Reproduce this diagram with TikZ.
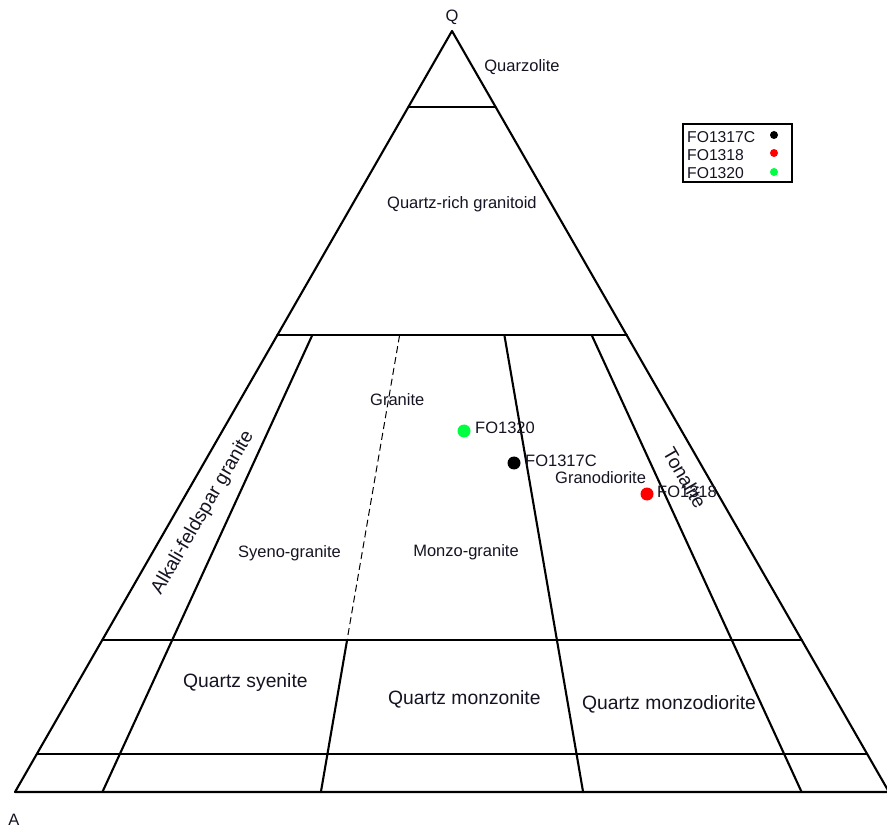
\documentclass[tikz,border=0pt]{standalone}
\usepackage{fontspec}
\setmainfont{Liberation Sans}
\usetikzlibrary{calc}
\newcommand{\smallf}{\fontsize{16.5}{19}\selectfont}
\newcommand{\bigf}{\fontsize{19.3}{22}\selectfont}
\newcommand{\legf}{\fontsize{15.7}{18}\selectfont}
\definecolor{txt}{RGB}{20,20,35}
\definecolor{ptgreen}{RGB}{0,255,64}
\definecolor{ptred}{RGB}{255,0,0}
\begin{document}
\begin{tikzpicture}[x=1pt,y=-1pt,
  edge/.style={line width=2.1pt, line cap=round, line join=round},
  dashline/.style={line width=1pt, dash pattern=on 7pt off 4pt},
  lab/.style={inner sep=0pt, text=txt, font=\smallf},
  biglab/.style={inner sep=0pt, text=txt, font=\bigf},
  pt/.style={circle, inner sep=0pt, minimum size=13pt},
  legdot/.style={circle, inner sep=0pt, minimum size=8pt}]
\useasboundingbox (0,0) rectangle (887,826);
\clip (0,0) rectangle (887,826);
\fill[white] (0,0) rectangle (887,826);
% corners
\coordinate (A) at (15,792);
\coordinate (Q) at (452,31);
\coordinate (P) at (889,792);
% horizontal boundaries
\foreach \q/\n in {0.9/h90, 0.6/h60, 0.2/h20, 0.05/h5}{
  \coordinate (\n l) at ($(A)!\q!(Q)$);
  \coordinate (\n r) at ($(P)!\q!(Q)$);
}
% radial boundaries
\foreach \r/\n in {0.1/r10, 0.35/r35, 0.65/r65, 0.9/r90}{
  \coordinate (\n b) at ($(A)!\r!(P)$);
  \coordinate (\n t) at ($(\n b)!0.6!(Q)$);
  \coordinate (\n m) at ($(\n b)!0.2!(Q)$);
}
% triangle
\draw[edge] (A) -- (Q) -- (P) -- cycle;
\draw[edge] (h90l) -- (h90r);
\draw[edge] (h60l) -- (h60r);
\draw[edge] (h20l) -- (h20r);
\draw[edge] (h5l) -- (h5r);
\draw[edge] (r10t) -- (r10b);
\draw[dashline] (r35t) -- (r35m);
\draw[edge] (r35m) -- (r35b);
\draw[edge] (r65t) -- (r65b);
\draw[edge] (r90t) -- (r90b);
% vertex labels
\node[lab] (lQ) at (452,17) {Q};
\node[lab] (lA) at (14,820) {A};
\node[lab] (lP) at (893,820) {P};
% field labels
\node[lab] (quarzolite) at (522,67) {Quarzolite};
\node[lab, anchor=base west] (qrg) at (387,209) {Quartz-rich granitoid};
\node[lab, anchor=base west] (granite) at (370,406) {Granite};
\node[lab, anchor=base west] (syeno) at (238,557) {Syeno-granite};
\node[lab] (monzo) at (466,552) {Monzo-granite};
\node[lab, anchor=base west] (grano) at (555,483) {Granodiorite};
\node[biglab, rotate=60] (afg) at (203,513) {Alkali-feldspar granite};
\node[biglab, rotate=-60] (tonalite) at (685,478) {Tonalite};
\node[biglab, anchor=base west] (qsy) at (183,687) {Quartz syenite};
\node[biglab, anchor=base west] (qmz) at (388,704) {Quartz monzonite};
\node[biglab, anchor=base west] (qmzd) at (582,709) {Quartz monzodiorite};
% data points
\node[pt, fill=ptgreen] (p1320) at (464,431) {};
\node[pt, fill=black] (p1317) at (514,463) {};
\node[pt, fill=ptred] (p1318) at (647,494) {};
\node[lab, anchor=base west] (l1320) at (475,434) {FO1320};
\node[lab, anchor=base west] (l1317) at (525,467) {FO1317C};
\node[lab, anchor=base west] (l1318) at (657,497) {FO1318};
% legend
\draw[line width=2.6pt] (683,124) rectangle (792,182);
\node[lab, font=\legf, anchor=base west] (g1) at (687,143) {FO1317C};
\node[lab, font=\legf, anchor=base west] (g2) at (687,161) {FO1318};
\node[lab, font=\legf, anchor=base west] (g3) at (687,179) {FO1320};
\node[legdot, fill=black] (d1) at (774,135) {};
\node[legdot, fill=ptred] (d2) at (774,153) {};
\node[legdot, fill=ptgreen] (d3) at (774,172) {};
\end{tikzpicture}
\end{document}
